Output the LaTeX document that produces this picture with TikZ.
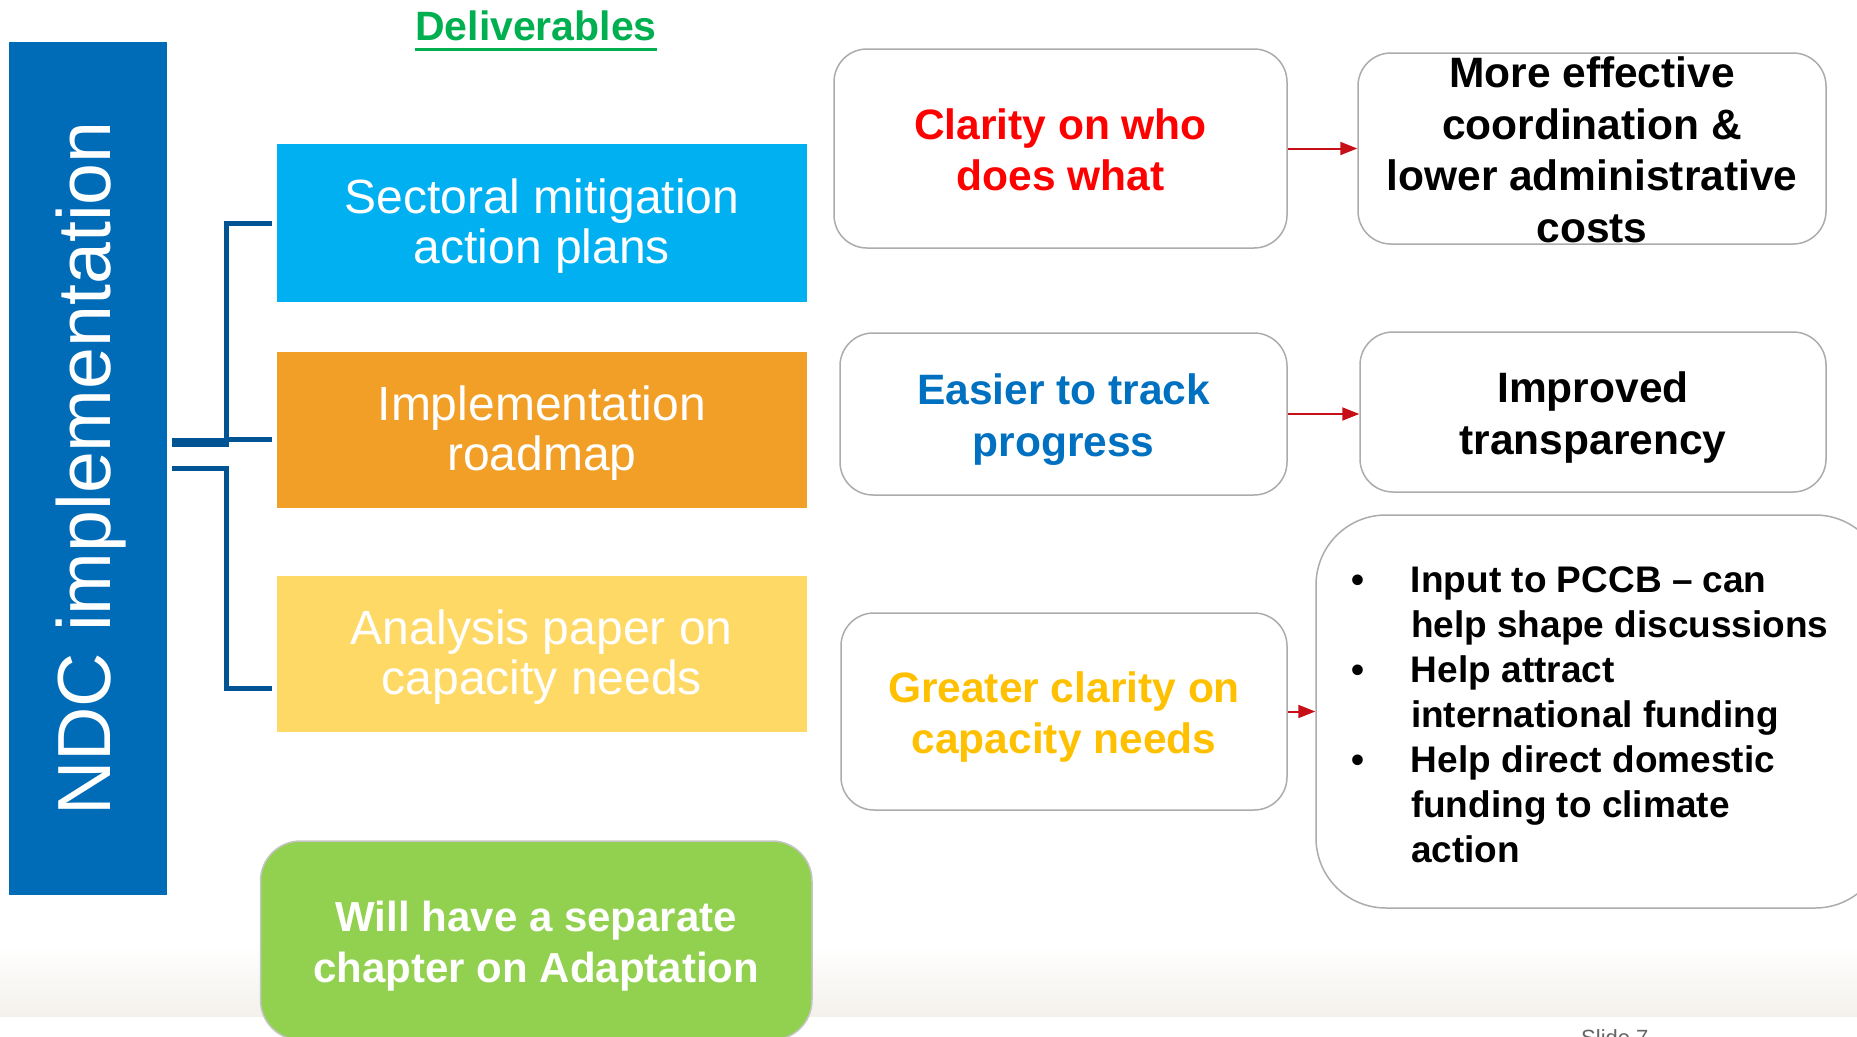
\documentclass[tikz,border=0pt]{standalone}
\usepackage{fontspec}
\setmainfont{Liberation Sans}
\usetikzlibrary{arrows.meta}

\definecolor{ndcblue}{RGB}{0,107,182}
\definecolor{skyblue}{RGB}{0,176,240}
\definecolor{roadorange}{RGB}{241,159,39}
\definecolor{paleyellow}{RGB}{255,217,102}
\definecolor{leafgreen}{RGB}{146,208,80}
\definecolor{navy}{RGB}{0,84,147}
\definecolor{delivgreen}{RGB}{0,176,80}
\definecolor{softgray}{RGB}{172,172,172}
\definecolor{arrowred}{RGB}{200,14,22}
\definecolor{clarityred}{RGB}{255,0,0}
\definecolor{trackblue}{RGB}{0,112,192}
\definecolor{amber}{RGB}{255,192,0}
\definecolor{bandbeige}{RGB}{244,241,236}
\definecolor{slidegray}{RGB}{100,100,100}

% lines of a box, centred the way the slide centres them (#2 = number of lines - 1)
\newcommand\boxlines[3][0.78em]{\raisebox{0pt}[0.5em][\dimexpr#2\baselineskip+0.5em-#1\relax]{\begin{tabular}[t]{@{}c@{}}#3\end{tabular}}}

\begin{document}
\begin{tikzpicture}[x=1pt,y=-1pt,
  box/.style={inner sep=0pt, text=white, minimum width=529.5pt, font=\fontsize{48}{50}\selectfont},
  soft/.style={draw=softgray, line width=1.5pt, fill=white, rounded corners=33pt, inner sep=0pt, font=\bfseries\fontsize{42.5}{51.5}\selectfont},
  bracket/.style={draw=navy, line width=5pt},
  flow/.style={draw=arrowred, line width=2pt, -{Triangle[length=17pt,width=13pt]}}]

\useasboundingbox (0,0) rectangle (1857,1036);
\clip (0,0) rectangle (1857,1036);
\fill[white] (0,0) rectangle (1857,1036);
\shade[top color=white, bottom color=bandbeige] (0,945) rectangle (1857,1016);

% left column
\node[fill=ndcblue, text=white, rotate=90, minimum width=853pt, minimum height=158pt, inner sep=0pt, font=\fontsize{75.3}{80}\selectfont] (ndc) at (88,468.5) {\raisebox{0pt}[0.75em][0.165em]{NDC implementation}};

\node[inner sep=0pt, anchor=base, text=delivgreen, font=\bfseries\fontsize{41}{48}\selectfont] (deliv) at (536,40) {Deliverables};
\draw[delivgreen, line width=3pt] ([yshift=-9pt]deliv.base west) -- ([yshift=-9pt]deliv.base east);

\node[box, fill=skyblue, minimum height=157.5pt] (sectoral) at (541.75,223) {\boxlines[0.66em]{1}{Sectoral mitigation\\action plans}};
\node[box, fill=roadorange, minimum height=156pt] (roadmap) at (541.75,430) {\boxlines[0.66em]{1}{Implementation\\roadmap}};
\node[box, fill=paleyellow, minimum height=156.5pt] (analysis) at (541.75,653.75) {\boxlines[0.66em]{1}{Analysis paper on\\capacity needs}};
\node[soft, draw=softgray!70, fill=leafgreen, text=white, rounded corners=40pt, minimum width=551.5pt, minimum height=199pt, font=\bfseries\fontsize{42}{51}\selectfont] (adaptation) at (536.25,940.5) {\boxlines{1}{Will have a separate\\chapter on Adaptation}};

% bracket
\coordinate (b1) at ([xshift=-5pt]sectoral.west);
\coordinate (b2) at (272,439);
\coordinate (b3) at (272,688);
\coordinate (s1) at (172,442);
\coordinate (s2) at (172,468);
\draw[bracket] (b1) -| (226,442);
\draw[bracket] (b2) -- (226,439);
\draw[bracket, line width=9pt] (s1) -- (229,442);
\draw[bracket] (s2) -| (226,688) -- (b3);

% outcomes
\node[soft, text=clarityred, minimum width=453pt, minimum height=199pt] (clarity) at (1060.5,148.5) {\boxlines{1}{Clarity on who\\does what}};
\node[soft, text=trackblue, minimum width=447pt, minimum height=162pt] (easier) at (1063.5,414) {\boxlines{1}{Easier to track\\progress}};
\node[soft, text=amber, minimum width=446pt, minimum height=197pt] (greater) at (1064,711.5) {\boxlines{1}{Greater clarity on\\capacity needs}};

\node[soft, minimum width=468pt, minimum height=191pt] (effective) at (1592,148.5) {\boxlines{3}{More effective\\coordination \&\\lower administrative\\costs}};
\node[soft, minimum width=466pt, minimum height=160pt] (improved) at (1593,412) {\boxlines{1}{Improved\\transparency}};
\node[soft, rounded corners=70pt, minimum width=569pt, minimum height=393pt, font=\bfseries\fontsize{37}{45}\selectfont] (impact) at (1600.5,711.5) {%
  \raisebox{0pt}[0.5em][\dimexpr6\baselineskip-0.39em\relax]{%
  \begin{tabular}[t]{@{}p{60pt}@{}p{439pt}@{}}
  \textbullet & Input to PCCB – can\\
   & help shape discussions\\
  \textbullet & Help attract\\
   & international funding\\
  \textbullet & Help direct domestic\\
   & funding to climate\\
   & action
  \end{tabular}}};

\draw[flow] (clarity) -- (effective);
\draw[flow] (easier.east) -- (easier.east -| improved.west);
\draw[flow] (greater) -- (impact);

\node[anchor=north west, inner sep=0pt, text=slidegray, font=\fontsize{22}{24}\selectfont] (slideno) at (1581,1029) {Slide 7};
\end{tikzpicture}
\end{document}
